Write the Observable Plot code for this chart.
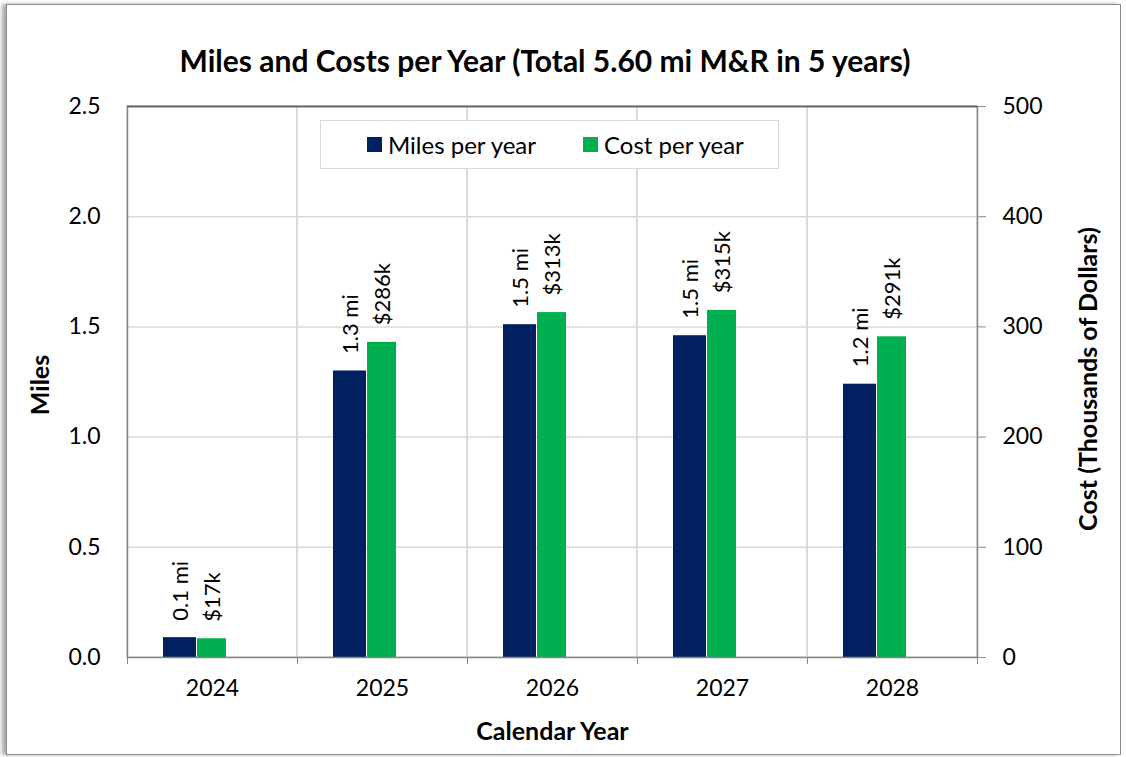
<!DOCTYPE html>
<html>
<head>
<meta charset="utf-8">
<script src="https://cdn.jsdelivr.net/npm/d3@7"></script>
<script src="https://cdn.jsdelivr.net/npm/@observablehq/plot@0.6"></script>
<style>
  html, body { margin: 0; padding: 0; background: #fff; width: 1126px; height: 757px; overflow: hidden; }
  body { font-family: Lato, "Open Sans", sans-serif; position: relative; }
  #box { position: absolute; left: 6px; top: 4px; width: 1113px; height: 749px; border: 1px solid #8c8c8c; box-shadow: -4px 0 4px rgba(0,0,0,0.35); background: #fff; }
  #chart { position: absolute; left: 0; top: 0; }
  #title { position: absolute; left: 0; width: 1090px; top: 43px; text-align: center; font-weight: bold; font-size: 30px; line-height: 34px; color: #000; }
  #legend { position: absolute; left: 320px; top: 120px; width: 457px; height: 47px; border: 1px solid #d9d9d9; background: #fff; display: flex; align-items: center; font-size: 24px; color: #000; }
  .sw { display: inline-block; width: 15px; height: 15px; margin-right: 6px; }
  .item { display: flex; align-items: center; }
</style>
</head>
<body>
<div id="box"></div>
<div id="chart"></div>
<div id="title">Miles and Costs per Year (Total 5.60 mi M&amp;R in 5 years)</div>
<div id="legend"></div>
<script>
const years = ["2024", "2025", "2026", "2027", "2028"];
const milesPerYear = [0.09, 1.30, 1.51, 1.46, 1.24];
const costPerYear = [17, 286, 313, 315, 291];           // thousands of dollars
const milesLabels = ["0.1 mi", "1.3 mi", "1.5 mi", "1.5 mi", "1.2 mi"];
const costLabels = ["$17k", "$286k", "$313k", "$315k", "$291k"];
const milesTicks = [0, 0.5, 1.0, 1.5, 2.0, 2.5];
const costTicks = [0, 100, 200, 300, 400, 500];
const seriesNames = ["Miles per year", "Cost per year"];
const seriesColors = ["#002060", "#00B050"];

const ratio = costTicks[costTicks.length - 1] / milesTicks[milesTicks.length - 1]; // 200

const rows = years.map((y, i) => ({
  year: y, miles: milesPerYear[i], cost: costPerYear[i],
  ml: milesLabels[i], cl: costLabels[i]
}));

const chart = Plot.plot({
  width: 1126,
  height: 757,
  marginLeft: 127,
  marginRight: 149,
  marginTop: 106,
  marginBottom: 100,
  style: { fontFamily: "Lato, 'Open Sans', sans-serif", fontSize: "23px", color: "#000", background: "transparent", overflow: "visible" },
  x: { domain: years, padding: 0 },
  y: { domain: [0, 2.5] },
  marks: [
    Plot.ruleY(milesTicks.slice(1, -1), { stroke: "#d9d9d9", strokeWidth: 1.5 }),
    Plot.barY(years, { x: d => d, y1: 0, y2: 2.5, fill: "none", stroke: "#d9d9d9", strokeWidth: 1.5 }),
    Plot.barY(rows, { x: "year", y: "miles", fill: seriesColors[0], insetLeft: 36, insetRight: 101 }),
    Plot.barY(rows, { x: "year", y: d => d.cost / ratio, fill: seriesColors[1], insetLeft: 70, insetRight: 71 }),
    Plot.text(rows, { x: "year", y: "miles", text: "ml", rotate: -90, textAnchor: "start", dx: -32, dy: -17, fontSize: 22, fill: "#000" }),
    Plot.text(rows, { x: "year", y: d => d.cost / ratio, text: "cl", rotate: -90, textAnchor: "start", dx: 0, dy: -17, fontSize: 22, fill: "#000" }),
    Plot.frame({ stroke: "#868686", strokeWidth: 1.5 }),
    Plot.ruleY([2.5], { stroke: "#595959", strokeWidth: 1.5 }),
    Plot.axisY(milesTicks, { anchor: "left", tickSize: 0, tickPadding: 27, tickFormat: d => d.toFixed(1), label: null }),
    Plot.axisY(milesTicks, { anchor: "right", tickSize: 8, tickPadding: 17, tickFormat: d => String(Math.round(d * ratio)), label: null, stroke: "#8c8c8c" }),
    Plot.axisX({ tickSize: 0, tickPadding: 22, label: null }),
    Plot.axisX({ tickSize: 7, tickFormat: () => "", dx: -85, label: null, stroke: "#868686" }),
    Plot.axisX([years[years.length - 1]], { tickSize: 7, tickFormat: () => "", dx: 85, label: null, stroke: "#868686" }),
    Plot.text(["Miles"], { frameAnchor: "left", textAnchor: "middle", lineAnchor: "middle", dx: -87, dy: 3, rotate: -90, fontWeight: "bold", fontSize: 25, fill: "#000" }),
    Plot.text(["Cost (Thousands of Dollars)"], { frameAnchor: "right", textAnchor: "middle", lineAnchor: "middle", dx: 111, dy: -3, rotate: -90, fontWeight: "bold", fontSize: 25, fill: "#000" }),
    Plot.text(["Calendar Year"], { frameAnchor: "bottom", textAnchor: "middle", lineAnchor: "middle", dy: 74, fontWeight: "bold", fontSize: 25, fill: "#000" })
  ]
});
document.getElementById("chart").appendChild(chart);

const legend = document.getElementById("legend");
const pads = ["46px", "47px"];
seriesNames.forEach((name, i) => {
  const item = document.createElement("div");
  item.className = "item";
  item.style.marginLeft = pads[i];
  const sw = document.createElement("span");
  sw.className = "sw";
  sw.style.background = seriesColors[i];
  item.appendChild(sw);
  item.appendChild(document.createTextNode(name));
  legend.appendChild(item);
});
</script>
</body>
</html>
